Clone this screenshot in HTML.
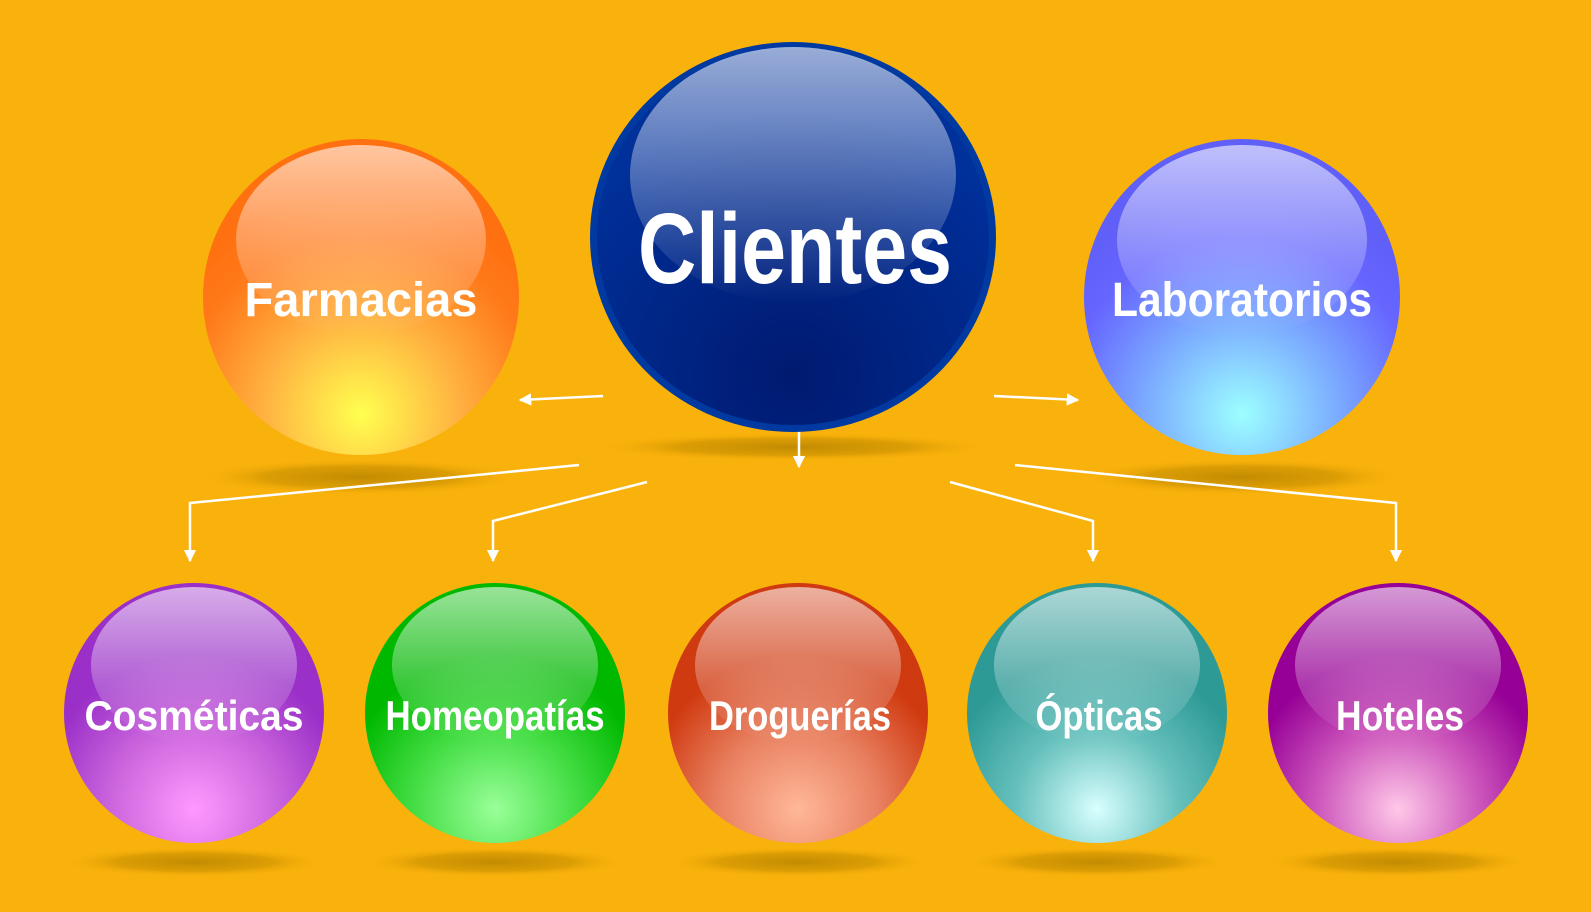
<!DOCTYPE html>
<html><head><meta charset="utf-8"><style>html,body{margin:0;padding:0;background:#f9b10b}svg{display:block}</style></head>
<body>
<svg width="1591" height="912" viewBox="0 0 1591 912" xmlns="http://www.w3.org/2000/svg">
<defs>
<radialGradient id="sh"><stop offset="0" stop-color="#b88400" stop-opacity="0.85"/><stop offset="0.6" stop-color="#c89000" stop-opacity="0.6"/><stop offset="1" stop-color="#f9b10b" stop-opacity="0"/></radialGradient>
<linearGradient id="gl" x1="0" y1="0" x2="0" y2="1"><stop offset="0" stop-color="#fff" stop-opacity="0.6"/><stop offset="1" stop-color="#fff" stop-opacity="0"/></linearGradient>
<radialGradient id="gF" cx="0.5" cy="0.87" r="0.7"><stop offset="0" stop-color="#ffff50"/><stop offset="0.45" stop-color="#ffb040"/><stop offset="0.8" stop-color="#ff7a1a"/><stop offset="1" stop-color="#ff7010"/></radialGradient>
<radialGradient id="gL" cx="0.5" cy="0.87" r="0.7"><stop offset="0" stop-color="#9cffff"/><stop offset="0.45" stop-color="#7aa8ff"/><stop offset="0.8" stop-color="#6666ff"/><stop offset="1" stop-color="#6060f8"/></radialGradient>
<radialGradient id="gC" cx="0.5" cy="0.87" r="0.7"><stop offset="0" stop-color="#001a70"/><stop offset="1" stop-color="#00309a"/></radialGradient>
<radialGradient id="g1" cx="0.5" cy="0.87" r="0.7"><stop offset="0" stop-color="#ff99ff"/><stop offset="0.45" stop-color="#cc66dd"/><stop offset="0.85" stop-color="#9a30c8"/></radialGradient>
<radialGradient id="g2" cx="0.5" cy="0.87" r="0.7"><stop offset="0" stop-color="#99ff99"/><stop offset="0.45" stop-color="#44dd44"/><stop offset="0.85" stop-color="#00b800"/></radialGradient>
<radialGradient id="g3" cx="0.5" cy="0.87" r="0.7"><stop offset="0" stop-color="#ffb898"/><stop offset="0.45" stop-color="#e88060"/><stop offset="0.85" stop-color="#d03a10"/></radialGradient>
<radialGradient id="g4" cx="0.5" cy="0.87" r="0.7"><stop offset="0" stop-color="#d8ffff"/><stop offset="0.45" stop-color="#66c0bc"/><stop offset="0.85" stop-color="#2e9a96"/></radialGradient>
<radialGradient id="g5" cx="0.5" cy="0.87" r="0.7"><stop offset="0" stop-color="#ffc8e8"/><stop offset="0.45" stop-color="#cc55bb"/><stop offset="0.85" stop-color="#960096"/></radialGradient>
<marker id="ar" viewBox="0 0 10 10" refX="9" refY="5" markerWidth="5" markerHeight="5" orient="auto"><path d="M0,0L10,5L0,10z" fill="#fff"/></marker>
</defs>
<rect width="1591" height="912" fill="#f9b10b"/>
<ellipse cx="360" cy="477" rx="160" ry="18" fill="url(#sh)"/>
<ellipse cx="1242" cy="477" rx="160" ry="18" fill="url(#sh)"/>
<ellipse cx="793" cy="447" rx="195" ry="14" fill="url(#sh)"/>
<ellipse cx="194" cy="862" rx="130" ry="15" fill="url(#sh)"/>
<ellipse cx="495" cy="862" rx="130" ry="15" fill="url(#sh)"/>
<ellipse cx="798" cy="862" rx="130" ry="15" fill="url(#sh)"/>
<ellipse cx="1097" cy="862" rx="130" ry="15" fill="url(#sh)"/>
<ellipse cx="1398" cy="862" rx="130" ry="15" fill="url(#sh)"/>
<g stroke="#fff" stroke-width="2.5" fill="none" marker-end="url(#ar)">
<path d="M603,396L520,400"/>
<path d="M994,396L1078,400"/>
<path d="M799,426L799,467"/>
<path d="M579,465L190,503L190,561"/>
<path d="M647,482L493,521L493,561"/>
<path d="M950,482L1093,521L1093,561"/>
<path d="M1015,465L1396,503L1396,561"/>
</g>
<circle cx="361" cy="297" r="158" fill="url(#gF)"/>
<ellipse cx="361" cy="240" rx="125" ry="95" fill="url(#gl)"/>
<circle cx="1242" cy="297" r="158" fill="url(#gL)"/>
<ellipse cx="1242" cy="240" rx="125" ry="95" fill="url(#gl)"/>
<ellipse cx="793" cy="237" rx="203" ry="195" fill="#0039a0"/>
<ellipse cx="793" cy="237" rx="196" ry="188" fill="url(#gC)"/>
<ellipse cx="793" cy="175" rx="163" ry="128" fill="url(#gl)"/>
<circle cx="194" cy="713" r="130" fill="url(#g1)"/><ellipse cx="194" cy="665" rx="103" ry="78" fill="url(#gl)"/>
<circle cx="495" cy="713" r="130" fill="url(#g2)"/><ellipse cx="495" cy="665" rx="103" ry="78" fill="url(#gl)"/>
<circle cx="798" cy="713" r="130" fill="url(#g3)"/><ellipse cx="798" cy="665" rx="103" ry="78" fill="url(#gl)"/>
<circle cx="1097" cy="713" r="130" fill="url(#g4)"/><ellipse cx="1097" cy="665" rx="103" ry="78" fill="url(#gl)"/>
<circle cx="1398" cy="713" r="130" fill="url(#g5)"/><ellipse cx="1398" cy="665" rx="103" ry="78" fill="url(#gl)"/>
<g fill="#fff" font-family="Liberation Sans, sans-serif" font-weight="bold" text-anchor="middle">
<text x="795" y="283" font-size="100" textLength="314" lengthAdjust="spacingAndGlyphs">Clientes</text>
<text x="361" y="316" font-size="48" textLength="233" lengthAdjust="spacingAndGlyphs">Farmacias</text>
<text x="1242" y="316" font-size="48" textLength="260" lengthAdjust="spacingAndGlyphs">Laboratorios</text>
<text x="194" y="730" font-size="42" textLength="219" lengthAdjust="spacingAndGlyphs">Cosméticas</text>
<text x="495" y="730" font-size="42" textLength="219" lengthAdjust="spacingAndGlyphs">Homeopatías</text>
<text x="800" y="730" font-size="42" textLength="182" lengthAdjust="spacingAndGlyphs">Droguerías</text>
<text x="1099" y="730" font-size="42" textLength="127" lengthAdjust="spacingAndGlyphs">Ópticas</text>
<text x="1400" y="730" font-size="42" textLength="128" lengthAdjust="spacingAndGlyphs">Hoteles</text>
</g>
</svg>
</body></html>
